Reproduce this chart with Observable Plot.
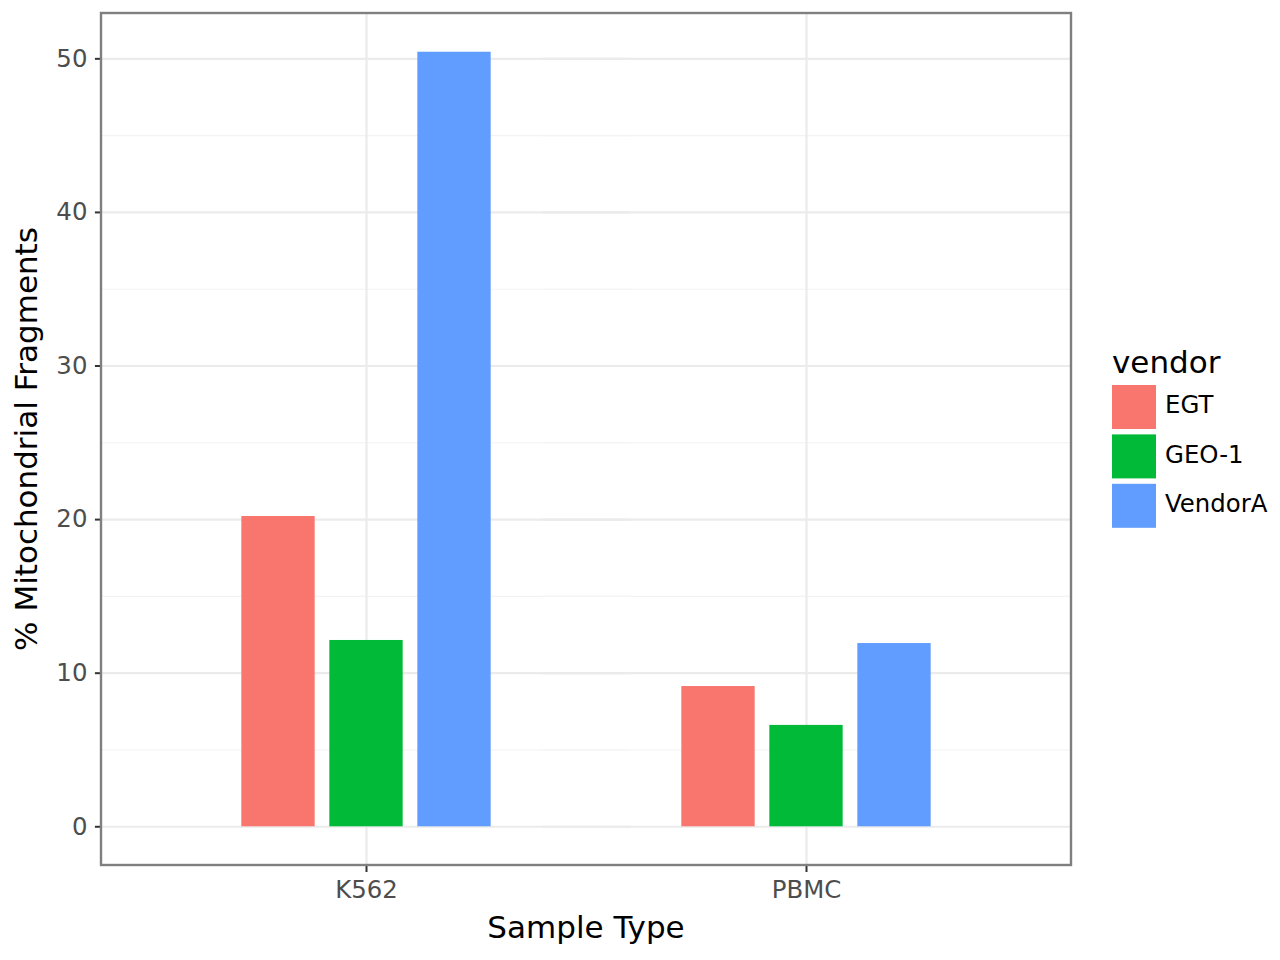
<!DOCTYPE html>
<html>
<head>
<meta charset="utf-8">
<script src="https://cdn.jsdelivr.net/npm/d3@7"></script>
<script src="https://cdn.jsdelivr.net/npm/@observablehq/plot@0.6"></script>
<style>
  html, body { margin: 0; padding: 0; background: #ffffff; }
  #chart { position: relative; width: 1280px; height: 960px; }
  #chart svg { display: block; }
</style>
</head>
<body>
<div id="chart"></div>
<script>
// ---- data ----
const samples = ["K562", "PBMC"];
const vendors = ["EGT", "GEO-1", "VendorA"];
const colors = ["#F8766D", "#00BA38", "#619CFF"];
const egtValues = [20.2, 9.13];
const geo1Values = [12.13, 6.6];
const vendorAValues = [50.43, 11.93];
const yTicks = [0, 10, 20, 30, 40, 50];
const yMinorTicks = [5, 15, 25, 35, 45];
const xTitle = "Sample Type";
const yTitle = "% Mitochondrial Fragments";
const legendTitle = "vendor";

const series = [egtValues, geo1Values, vendorAValues];
const data = samples.flatMap((s, i) =>
  vendors.map((v, j) => ({sample: s, vendor: v, value: series[j][i]}))
);

// ggplot-like 5% expansion of the continuous y scale
const yMax = d3.max(data, d => d.value);
const pad = yMax * 0.05;

const W = 1280, H = 960;
const mL = 101, mR = 209, mT = 13, mB = 95;
const font = "DejaVu Sans";

// discrete expansion of 0.6 category units on each side (facet outer padding)
const fxOuter = 0.1;
const fxStep = (W - mL - mR) / (samples.length + 2 * fxOuter);
const outerPx = fxStep * fxOuter;

const plot = Plot.plot({
  width: W,
  height: H,
  marginLeft: mL,
  marginRight: mR,
  marginTop: mT,
  marginBottom: mB,
  style: {fontFamily: font, background: "#ffffff", overflow: "visible"},
  fx: {domain: samples, paddingInner: 0, paddingOuter: fxOuter, label: null},
  x: {domain: vendors, paddingInner: 1 / 6, paddingOuter: 13 / 12, round: false, axis: null},
  y: {domain: [-pad, yMax + pad], label: null},
  color: {domain: vendors, range: colors},
  marks: [
    Plot.ruleY(yMinorTicks, {stroke: "#f3f3f3", strokeWidth: 1.1, insetLeft: -outerPx, insetRight: -outerPx}),
    Plot.ruleY(yTicks, {stroke: "#ebebeb", strokeWidth: 2.2, insetLeft: -outerPx, insetRight: -outerPx}),
    Plot.ruleX(samples, {fx: d => d, x: () => vendors[1], stroke: "#ebebeb", strokeWidth: 2.2}),
    Plot.barY(data, {fx: "sample", x: "vendor", y: "value", fill: "vendor", inset: 0}),
    Plot.axisY(yTicks, {
      dx: -outerPx,
      tickSize: 7, tickPadding: 8, fontSize: 24.4,
      stroke: "#333333", strokeWidth: 2, fill: "#4d4d4d", label: null
    }),
    Plot.axisFx({
      anchor: "bottom", tickSize: 7, tickPadding: 8, fontSize: 24.4,
      stroke: "#333333", strokeWidth: 2, fill: "#4d4d4d", label: null
    })
  ]
});

document.getElementById("chart").appendChild(plot);

// ---- panel border, axis titles, legend ----
const svg = d3.select(plot);

svg.append("rect")
  .attr("x", mL).attr("y", mT)
  .attr("width", W - mL - mR).attr("height", H - mT - mB)
  .attr("fill", "none").attr("stroke", "#7f7f7f").attr("stroke-width", 2.4);

svg.append("text")
  .attr("x", mL + (W - mL - mR) / 2).attr("y", 937.5)
  .attr("text-anchor", "middle")
  .attr("font-family", font).attr("font-size", 31).attr("fill", "#000")
  .text(xTitle);

svg.append("text")
  .attr("transform", `translate(36.5,${mT + (H - mT - mB) / 2}) rotate(-90)`)
  .attr("text-anchor", "middle")
  .attr("font-family", font).attr("font-size", 31).attr("fill", "#000")
  .text(yTitle);

const lg = svg.append("g").attr("transform", "translate(1112,0)").attr("text-anchor", "start");
lg.append("text")
  .attr("x", 0).attr("y", 372.7)
  .attr("text-anchor", "start")
  .attr("font-family", font).attr("font-size", 31).attr("fill", "#000")
  .text(legendTitle);
vendors.forEach((v, i) => {
  const top = 385 + i * 49.4;
  lg.append("rect")
    .attr("x", 0).attr("y", top).attr("width", 44).attr("height", 44)
    .attr("fill", colors[i]);
  lg.append("text")
    .attr("x", 53).attr("y", top + 28.3)
    .attr("text-anchor", "start")
    .attr("font-family", font).attr("font-size", 24.4).attr("fill", "#000")
    .text(v);
});
</script>
</body>
</html>
